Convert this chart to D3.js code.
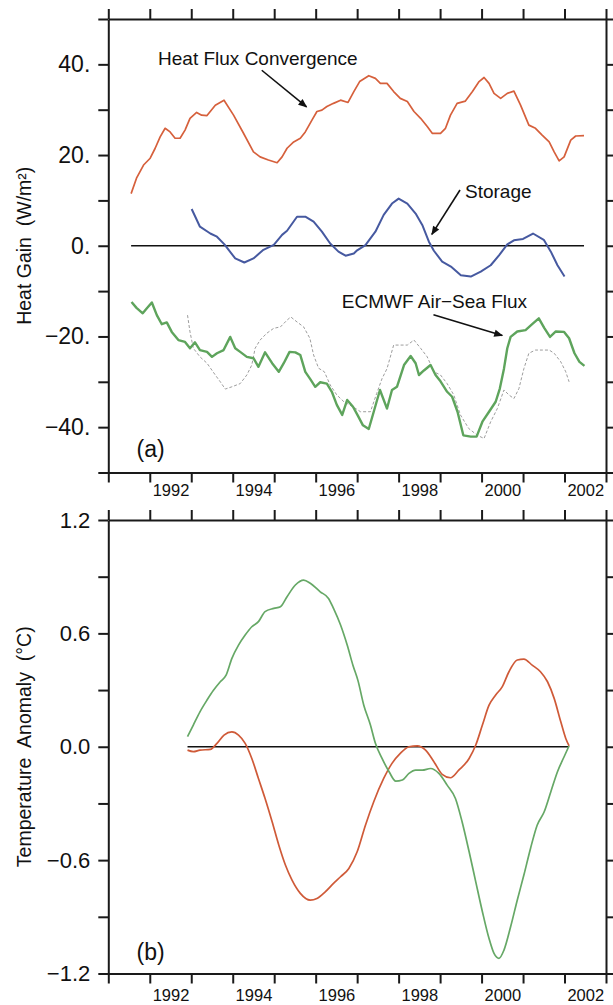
<!DOCTYPE html>
<html>
<head>
<meta charset="utf-8">
<script src="https://cdn.jsdelivr.net/npm/d3@7"></script>
<style>
  body { margin: 0; background: #fff; }
  svg { display: block; font-family: "Liberation Sans", Arial, sans-serif; }
  .axis path, .axis line { stroke: #1a1a1a; stroke-width: 2; }
  .axis text { fill: #111; }
  .lbl text { fill: #111; }
</style>
</head>
<body>
<div id="chart"></div>
<script>

// ---- values (time in decimal years) ----
var yearTicks = [1991, 1992, 1993, 1994, 1995, 1996, 1997, 1998, 1999, 2000, 2001, 2002, 2003];
var yearLabels = ["1992", "1994", "1996", "1998", "2000", "2002"];

var gainTicks = [-50, -40, -30, -20, -10, 0, 10, 20, 30, 40, 50];
var gainTickVals = [40, 20, 0, -20, -40];
var gainTickLabels = ["40.", "20.", "0.", "\u221220.", "\u221240."];

var anomTicks = [-1.2, -0.9, -0.6, -0.3, 0, 0.3, 0.6, 0.9, 1.2];
var anomTickVals = [1.2, 0.6, 0, -0.6, -1.2];
var anomTickLabels = ["1.2", "0.6", "0.0", "\u22120.6", "\u22121.2"];

// (a) heat flux convergence (red)
var heatFluxConv = [
  [1991.55, 11.5], [1991.68, 14.9], [1991.85, 17.8], [1992.01, 19.3], [1992.13, 21.5],
  [1992.25, 24.0], [1992.37, 25.9], [1992.49, 25.1], [1992.61, 23.7], [1992.73, 23.7],
  [1992.85, 25.5], [1992.97, 28.1], [1993.13, 29.4], [1993.25, 28.8], [1993.38, 28.7],
  [1993.58, 31.0], [1993.79, 32.1], [1994.02, 28.8], [1994.26, 24.8], [1994.50, 20.7],
  [1994.66, 19.6], [1994.86, 18.9], [1995.07, 18.3], [1995.19, 19.6], [1995.31, 21.5],
  [1995.47, 22.9], [1995.63, 23.7], [1995.75, 25.1], [1995.91, 27.7], [1996.03, 29.6],
  [1996.15, 29.9], [1996.27, 30.7], [1996.43, 31.4], [1996.60, 32.1], [1996.78, 31.6],
  [1996.92, 34.0], [1997.06, 36.2], [1997.28, 37.5], [1997.44, 36.9], [1997.56, 35.8],
  [1997.72, 35.8], [1997.88, 34.0], [1998.04, 32.5], [1998.21, 31.8], [1998.37, 29.6],
  [1998.53, 28.1], [1998.69, 26.3], [1998.81, 24.8], [1999.01, 24.8], [1999.13, 25.9],
  [1999.25, 28.8], [1999.41, 31.4], [1999.61, 31.9], [1999.78, 34.0], [1999.94, 36.2],
  [2000.06, 37.1], [2000.18, 35.8], [2000.30, 33.6], [2000.46, 32.5], [2000.62, 33.6],
  [2000.78, 34.1], [2000.94, 31.0], [2001.14, 26.6], [2001.30, 25.9], [2001.46, 24.4],
  [2001.63, 22.9], [2001.75, 20.7], [2001.87, 18.7], [2001.99, 19.6], [2002.15, 23.3],
  [2002.27, 24.2], [2002.47, 24.3]
];

// (a) storage (blue)
var storage = [
  [1993.01, 8.1], [1993.21, 4.2], [1993.46, 2.7], [1993.62, 2.0], [1993.80, 0.3],
  [1994.06, -2.8], [1994.28, -3.7], [1994.50, -2.8], [1994.74, -0.9], [1994.99, 0.2],
  [1995.19, 2.4], [1995.31, 3.3], [1995.55, 6.4], [1995.75, 6.4], [1995.95, 5.3],
  [1996.15, 3.1], [1996.35, 0.5], [1996.55, -1.3], [1996.72, -2.2], [1996.92, -1.7],
  [1997.00, -1.0], [1997.20, 0.15], [1997.44, 3.1], [1997.64, 6.8], [1997.84, 9.3],
  [1998.00, 10.4], [1998.21, 9.3], [1998.41, 7.1], [1998.57, 4.6], [1998.73, 0.9],
  [1998.85, -1.1], [1999.05, -3.5], [1999.26, -4.6], [1999.50, -6.5], [1999.74, -6.8],
  [1999.98, -5.7], [2000.22, -4.3], [2000.42, -2.1], [2000.62, 0.3], [2000.78, 1.2],
  [2001.00, 1.5], [2001.24, 2.7], [2001.50, 1.3], [2001.67, -1.3], [2001.83, -4.3],
  [2002.00, -6.8]
];

// (a) ECMWF air-sea flux (thick green)
var ecmwfFlux = [
  [1991.56, -12.4], [1991.68, -13.7], [1991.83, -14.9], [1991.93, -13.8], [1992.05, -12.5],
  [1992.17, -15.3], [1992.29, -17.3], [1992.41, -16.9], [1992.53, -19.0], [1992.69, -20.8],
  [1992.85, -21.2], [1992.97, -22.6], [1993.09, -21.3], [1993.21, -23.0], [1993.38, -23.4],
  [1993.50, -24.5], [1993.62, -23.7], [1993.78, -23.0], [1993.94, -20.1], [1994.06, -22.6],
  [1994.18, -23.4], [1994.34, -24.5], [1994.50, -24.8], [1994.62, -26.7], [1994.78, -23.5],
  [1994.95, -25.9], [1995.11, -27.8], [1995.23, -25.9], [1995.37, -23.4], [1995.51, -23.5],
  [1995.63, -24.1], [1995.75, -27.8], [1995.87, -29.4], [1995.99, -31.1], [1996.11, -30.1],
  [1996.27, -30.4], [1996.39, -32.2], [1996.51, -35.1], [1996.64, -37.3], [1996.76, -34.0],
  [1996.90, -35.5], [1997.02, -37.5], [1997.14, -39.6], [1997.28, -40.4], [1997.40, -36.6],
  [1997.55, -31.8], [1997.72, -35.9], [1997.84, -31.8], [1997.96, -31.1], [1998.13, -26.3],
  [1998.29, -24.3], [1998.41, -25.9], [1998.49, -28.5], [1998.61, -27.5], [1998.77, -26.3],
  [1998.89, -28.5], [1999.01, -29.9], [1999.17, -32.2], [1999.29, -33.3], [1999.42, -36.6],
  [1999.56, -41.8], [1999.74, -42.1], [1999.88, -42.1], [2000.02, -38.8], [2000.18, -36.6],
  [2000.34, -34.4], [2000.44, -31.5], [2000.54, -27.1], [2000.62, -22.6], [2000.70, -20.1],
  [2000.86, -18.9], [2001.06, -18.6], [2001.22, -17.3], [2001.38, -16.0], [2001.51, -18.1],
  [2001.65, -20.1], [2001.79, -18.9], [2001.99, -19.0], [2002.11, -20.4], [2002.24, -23.7],
  [2002.36, -25.6], [2002.48, -26.5]
];

// (a) thin dashed grey curve
var fluxThin = [
  [1992.91, -15.3], [1992.97, -19.0], [1993.05, -22.6], [1993.21, -24.5], [1993.38, -25.9],
  [1993.58, -28.5], [1993.70, -30.0], [1993.82, -31.6], [1993.98, -31.1], [1994.18, -30.4],
  [1994.34, -28.5], [1994.46, -26.3], [1994.54, -22.6], [1994.66, -20.8], [1994.82, -19.3],
  [1994.99, -18.2], [1995.15, -17.9], [1995.31, -16.4], [1995.40, -15.7], [1995.55, -16.8],
  [1995.71, -17.9], [1995.86, -20.4], [1995.95, -24.1], [1996.07, -27.0], [1996.21, -27.8],
  [1996.35, -30.7], [1996.51, -32.9], [1996.68, -34.4], [1996.90, -35.5], [1997.08, -36.6],
  [1997.32, -36.6], [1997.47, -32.6], [1997.60, -29.3], [1997.72, -27.1], [1997.88, -21.9],
  [1998.04, -21.9], [1998.21, -21.9], [1998.37, -20.8], [1998.53, -22.6], [1998.69, -24.5],
  [1998.85, -27.8], [1999.01, -28.5], [1999.17, -30.4], [1999.33, -32.9], [1999.49, -37.3],
  [1999.69, -40.3], [1999.90, -41.8], [2000.06, -42.5], [2000.22, -38.8], [2000.38, -35.9],
  [2000.54, -31.8], [2000.66, -32.9], [2000.78, -33.7], [2000.90, -31.5], [2001.02, -27.1],
  [2001.14, -23.7], [2001.30, -23.0], [2001.47, -23.0], [2001.63, -23.0], [2001.75, -23.7],
  [2001.91, -25.6], [2002.03, -27.8], [2002.11, -30.0]
];

// (b) temperature anomaly, green
var anomGreen = [
  [1992.91, 0.053], [1993.05, 0.115], [1993.21, 0.185], [1993.38, 0.247], [1993.54, 0.300],
  [1993.70, 0.344], [1993.84, 0.379], [1993.98, 0.468], [1994.14, 0.538], [1994.30, 0.591],
  [1994.46, 0.635], [1994.62, 0.662], [1994.78, 0.715], [1994.99, 0.732], [1995.15, 0.741],
  [1995.31, 0.794], [1995.51, 0.856], [1995.71, 0.882], [1995.87, 0.865], [1996.11, 0.820],
  [1996.31, 0.785], [1996.43, 0.732], [1996.60, 0.644], [1996.76, 0.538], [1996.90, 0.430],
  [1997.02, 0.350], [1997.16, 0.220], [1997.32, 0.115], [1997.44, 0.018], [1997.60, -0.062],
  [1997.77, -0.132], [1997.93, -0.182], [1998.09, -0.176], [1998.25, -0.141], [1998.41, -0.124],
  [1998.57, -0.124], [1998.77, -0.115], [1998.97, -0.141], [1999.17, -0.203], [1999.37, -0.274],
  [1999.53, -0.397], [1999.70, -0.556], [1999.86, -0.715], [2000.02, -0.873], [2000.18, -1.015],
  [2000.30, -1.094], [2000.42, -1.120], [2000.54, -1.076], [2000.70, -0.953], [2000.86, -0.812],
  [2001.02, -0.679], [2001.18, -0.538], [2001.34, -0.415], [2001.51, -0.344], [2001.67, -0.238],
  [2001.83, -0.132], [2001.99, -0.053], [2002.11, 0.005]
];

// (b) temperature anomaly, red
var anomRed = [
  [1992.91, -0.018], [1993.05, -0.026], [1993.21, -0.018], [1993.46, -0.014], [1993.62, 0.018],
  [1993.79, 0.062], [1993.98, 0.079], [1994.14, 0.062], [1994.30, 0.018], [1994.46, -0.062],
  [1994.62, -0.168], [1994.78, -0.274], [1994.95, -0.397], [1995.11, -0.520], [1995.27, -0.626],
  [1995.43, -0.706], [1995.63, -0.776], [1995.87, -0.812], [1996.03, -0.803], [1996.23, -0.768],
  [1996.43, -0.723], [1996.60, -0.688], [1996.80, -0.644], [1997.00, -0.556], [1997.20, -0.415],
  [1997.40, -0.291], [1997.64, -0.168], [1997.84, -0.088], [1998.04, -0.035], [1998.25, 0.000],
  [1998.45, 0.005], [1998.65, -0.018], [1998.85, -0.079], [1999.05, -0.146], [1999.25, -0.164],
  [1999.45, -0.124], [1999.70, -0.062], [1999.86, 0.009], [2000.02, 0.115], [2000.18, 0.220],
  [2000.34, 0.274], [2000.50, 0.318], [2000.66, 0.397], [2000.86, 0.459], [2001.02, 0.464],
  [2001.22, 0.432], [2001.42, 0.397], [2001.59, 0.344], [2001.75, 0.256], [2001.91, 0.132],
  [2002.03, 0.044], [2002.11, 0.005]
];

// ---- layout ----
var width = 613, height = 1005;

var svg = d3.select("#chart")
  .append("svg")
  .attr("width", width)
  .attr("height", height);

var x = d3.scaleLinear().domain([1991, 2003]).range([108.3, 606]);
var yA = d3.scaleLinear().domain([-50, 50]).range([472.5, 19]);
var yB = d3.scaleLinear().domain([-1.2, 1.2]).range([973.5, 520]);

// arrow head
svg.append("defs").append("marker")
  .attr("id", "arrow")
  .attr("markerUnits", "userSpaceOnUse")
  .attr("viewBox", "0 0 10 10")
  .attr("refX", 9).attr("refY", 5)
  .attr("markerWidth", 11).attr("markerHeight", 9)
  .attr("orient", "auto")
  .append("path")
  .attr("d", "M0,1 L10,5 L0,9 Z")
  .attr("fill", "#111");

function frame(y, ticks, tickVals, tickLabels, labelSize, yearPad) {
  var top = y.range()[1], bottom = y.range()[0];

  svg.append("g").attr("class", "axis")
    .attr("transform", "translate(0," + top + ")")
    .call(d3.axisTop(x).tickValues(yearTicks).tickSize(10).tickSizeOuter(0).tickFormat(""));

  svg.append("g").attr("class", "axis")
    .attr("transform", "translate(0," + bottom + ")")
    .call(d3.axisBottom(x).tickValues(yearTicks).tickSize(10).tickSizeOuter(0).tickFormat(""));

  var left = svg.append("g").attr("class", "axis")
    .attr("transform", "translate(" + x(1991) + ",0)")
    .call(d3.axisLeft(y).tickValues(ticks).tickSize(10).tickSizeOuter(0).tickPadding(8)
      .tickFormat(function(d) {
        var i = tickVals.findIndex(function(v) { return Math.abs(v - d) < 1e-6; });
        return i < 0 ? "" : tickLabels[i];
      }));
  left.selectAll("text").style("font-size", labelSize);

  svg.append("g").attr("class", "axis")
    .attr("transform", "translate(" + x(2003) + ",0)")
    .call(d3.axisRight(y).tickValues(ticks).tickSize(10).tickSizeOuter(0).tickFormat(""));

  // year labels centred in their year
  var yl = svg.append("g").attr("class", "axis")
    .attr("transform", "translate(0," + bottom + ")")
    .call(d3.axisBottom(x)
      .tickValues(yearLabels.map(function(d) { return +d + 0.5; }))
      .tickSize(0).tickPadding(yearPad)
      .tickFormat(function(d, i) { return yearLabels[i]; }));
  yl.select(".domain").remove();
  yl.selectAll("text").style("font-size", "16.5px");
}

frame(yA, gainTicks, gainTickVals, gainTickLabels, "23px", 12);
frame(yB, anomTicks, anomTickVals, anomTickLabels, "22px", 16);

// ---- panel (a) ----
var lineA = d3.line()
  .x(function(d) { return x(d[0]); })
  .y(function(d) { return yA(d[1]); });

svg.append("line")
  .attr("x1", x(heatFluxConv[0][0])).attr("x2", x(heatFluxConv[heatFluxConv.length - 1][0]))
  .attr("y1", yA(0)).attr("y2", yA(0))
  .attr("stroke", "#111").attr("stroke-width", 1.3);

svg.append("path").datum(fluxThin)
  .attr("fill", "none").attr("stroke", "#9d9d9d").attr("stroke-width", 1)
  .attr("stroke-dasharray", "3,2")
  .attr("d", lineA);

svg.append("path").datum(ecmwfFlux)
  .attr("fill", "none").attr("stroke", "#5ea45c").attr("stroke-width", 2.4)
  .attr("stroke-linejoin", "round")
  .attr("d", lineA);

svg.append("path").datum(storage)
  .attr("fill", "none").attr("stroke", "#4659a0").attr("stroke-width", 2)
  .attr("stroke-linejoin", "round")
  .attr("d", lineA);

svg.append("path").datum(heatFluxConv)
  .attr("fill", "none").attr("stroke", "#d6603c").attr("stroke-width", 1.7)
  .attr("stroke-linejoin", "round")
  .attr("d", lineA);

// ---- panel (b) ----
var lineB = d3.line()
  .curve(d3.curveMonotoneX)
  .x(function(d) { return x(d[0]); })
  .y(function(d) { return yB(d[1]); });

svg.append("line")
  .attr("x1", x(anomRed[0][0])).attr("x2", x(anomRed[anomRed.length - 1][0]))
  .attr("y1", yB(0)).attr("y2", yB(0))
  .attr("stroke", "#111").attr("stroke-width", 1.3);

svg.append("path").datum(anomRed)
  .attr("fill", "none").attr("stroke", "#cf5a38").attr("stroke-width", 1.7)
  .attr("d", lineB);

svg.append("path").datum(anomGreen)
  .attr("fill", "none").attr("stroke", "#66a866").attr("stroke-width", 1.7)
  .attr("d", lineB);

// ---- annotations (positions in data units) ----
var notes = svg.append("g").attr("class", "lbl").style("font-size", "19px");

notes.append("text").attr("x", x(1992.2)).attr("y", yA(39.8)).text("Heat Flux Convergence");
notes.append("text").attr("x", x(1999.6)).attr("y", yA(10.5)).text("Storage");
notes.append("text").attr("x", x(1996.63)).attr("y", yA(-13.8)).text("ECMWF Air\u2212Sea Flux");

function arrow(x0, v0, x1, v1) {
  svg.append("line")
    .attr("x1", x(x0)).attr("y1", yA(v0))
    .attr("x2", x(x1)).attr("y2", yA(v1))
    .attr("stroke", "#111").attr("stroke-width", 1.6)
    .attr("marker-end", "url(#arrow)");
}
arrow(1994.70, 38.7, 1995.78, 30.6);
arrow(1999.48, 12.3, 1998.80, 2.5);
arrow(1998.84, -15.2, 2000.50, -19.8);

notes.append("text").attr("x", x(1991.68)).attr("y", yA(-46.6))
  .style("font-size", "23px").text("(a)");
notes.append("text").attr("x", x(1991.68)).attr("y", yB(-1.129))
  .style("font-size", "23px").text("(b)");

// axis titles
svg.append("text")
  .attr("transform", "translate(31," + yA(0) + ") rotate(-90)")
  .attr("text-anchor", "middle")
  .style("font-size", "19.5px").style("white-space", "pre").attr("fill", "#111")
  .text("Heat Gain  (W/m\u00b2)");

svg.append("text")
  .attr("transform", "translate(31," + yB(0) + ") rotate(-90)")
  .attr("text-anchor", "middle")
  .style("font-size", "19.5px").style("white-space", "pre").attr("fill", "#111")
  .text("Temperature  Anomaly  (\u00b0C)");

</script>
</body>
</html>
